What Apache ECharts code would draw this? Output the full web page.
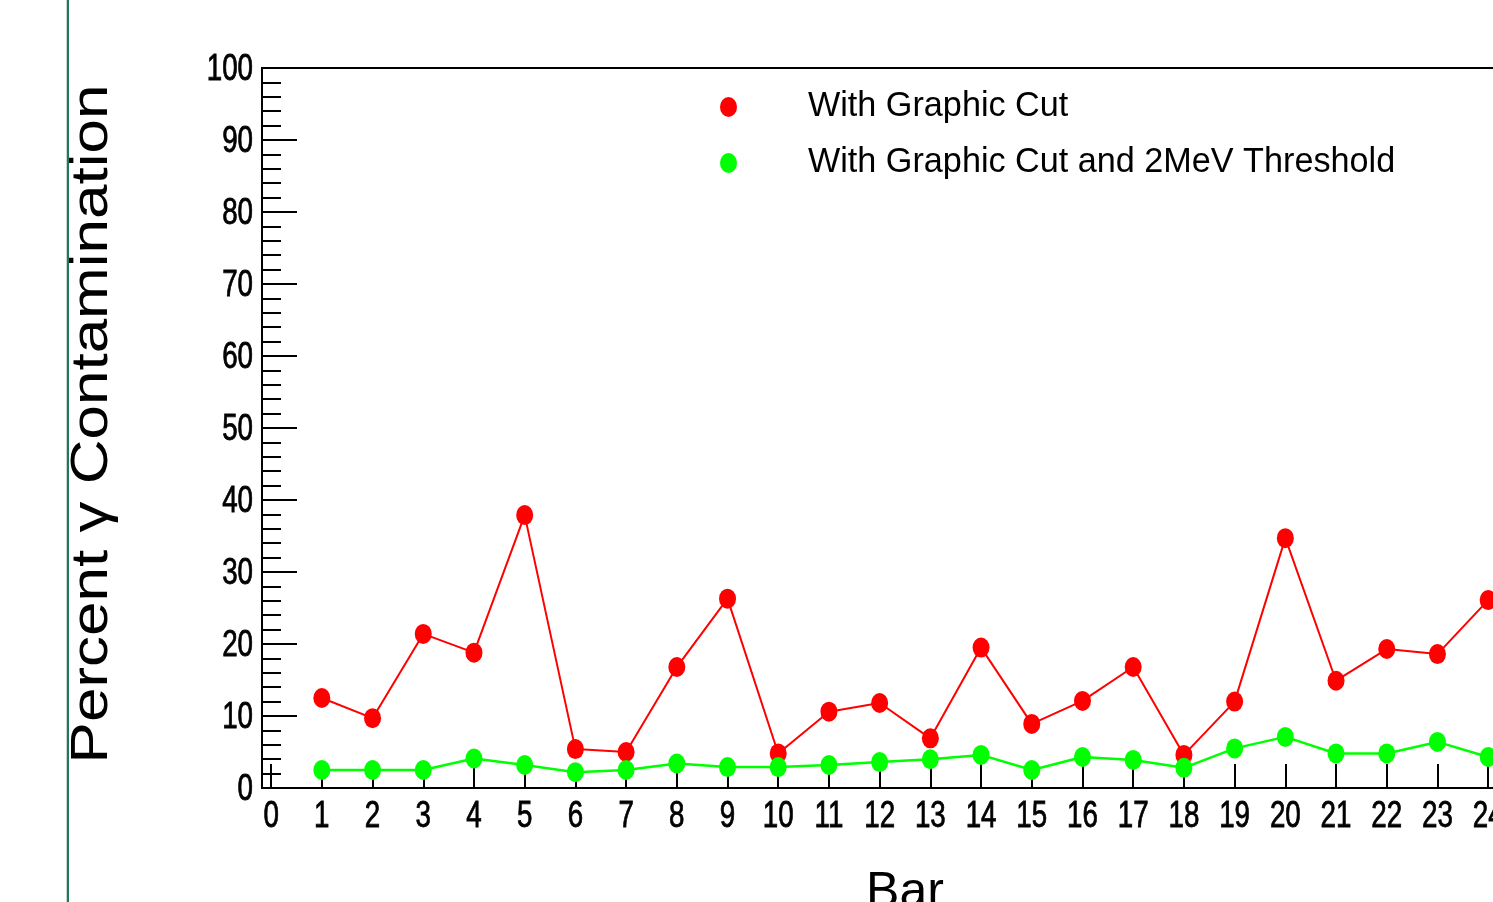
<!DOCTYPE html>
<html>
<head>
<meta charset="utf-8">
<script src="https://cdn.jsdelivr.net/npm/echarts@6/dist/echarts.min.js"></script>
<style>
  html, body { margin: 0; padding: 0; background: #fff; overflow: hidden; }
  #chart { width: 1493px; height: 902px; }
</style>
</head>
<body>
<div id="chart"></div>
<script>
// Bar numbers (x) and percent gamma contamination for each selection
const bars = [1, 2, 3, 4, 5, 6, 7, 8, 9, 10, 11, 12, 13, 14, 15, 16, 17, 18, 19, 20, 21, 22, 23, 24];
const graphicCut = [12.5, 9.7, 21.4, 18.8, 37.9, 5.4, 5.0, 16.8, 26.3, 4.8, 10.6, 11.8,
                    6.9, 19.5, 8.9, 12.1, 16.8, 4.6, 12.0, 34.7, 14.9, 19.3, 18.6, 26.1];
const graphicCutThreshold = [2.5, 2.5, 2.5, 4.1, 3.2, 2.2, 2.5, 3.4, 2.9, 2.9, 3.2, 3.6,
                             4.0, 4.6, 2.5, 4.3, 3.9, 2.8, 5.5, 7.1, 4.8, 4.8, 6.4, 4.3];
const seriesNames = ['With Graphic Cut', 'With Graphic Cut and 2MeV Threshold'];
const xTickLabels = [0, 1, 2, 3, 4, 5, 6, 7, 8, 9, 10, 11, 12, 13, 14, 15, 16, 17, 18, 19, 20, 21, 22, 23, 24, 25];
const yTickLabels = [0, 10, 20, 30, 40, 50, 60, 70, 80, 90, 100];
const yTitle = 'Percent \u03b3 Contamination';
const xTitle = 'Bar';

const mainFont = "'Liberation Sans', Arial, Helvetica, sans-serif";
// slightly tall filled marker
const markerPath = 'path://M0,10a8.5,10 0 1,0 17,0a8.5,10 0 1,0 -17,0z';

const chart = echarts.init(document.getElementById('chart'));

function pairs(vals) {
  return bars.map((b, i) => [b, vals[i]]);
}

chart.setOption({
  animation: false,
  backgroundColor: '#fff',
  grid: {
    left: 262, top: 68, width: 1286, height: 720,
    containLabel: false,
    outerBoundsMode: 'none',
    show: true, borderColor: '#000', borderWidth: 2, backgroundColor: 'transparent'
  },
  legend: {
    orient: 'vertical',
    left: 720, top: 89,
    padding: 0,
    itemWidth: 17, itemHeight: 20, itemGap: 20,
    formatter: name => '{gap| }' + name,
    textStyle: {
      fontFamily: mainFont, fontSize: 34.2, color: '#000', lineHeight: 36,
      rich: { gap: { width: 66, fontSize: 34 } }
    },
    data: [
      { name: seriesNames[0], icon: markerPath },
      { name: seriesNames[1], icon: markerPath }
    ]
  },
  xAxis: {
    type: 'value',
    min: -0.18, max: 25.18,
    name: xTitle,
    nameLocation: 'middle',
    nameGap: 80,
    nameTextStyle: { fontFamily: mainFont, fontSize: 50, color: '#000' },
    axisLine: { show: true, onZero: false, lineStyle: { color: '#000', width: 2 } },
    axisTick: { show: true, inside: true, length: 24, customValues: xTickLabels, lineStyle: { color: '#000', width: 2 } },
    axisLabel: { show: false },
    splitLine: { show: false }
  },
  yAxis: {
    type: 'value',
    min: 0, max: 100, interval: 10,
    axisLine: { show: true, onZero: false, lineStyle: { color: '#000', width: 2 } },
    axisTick: { show: true, inside: true, length: 35, lineStyle: { color: '#000', width: 2 } },
    minorTick: { show: true, splitNumber: 5, length: 19, lineStyle: { color: '#000', width: 2 } },
    axisLabel: { show: false },
    splitLine: { show: false },
    minorSplitLine: { show: false }
  },
  series: [
    {
      name: seriesNames[0],
      type: 'line',
      data: pairs(graphicCut),
      symbol: markerPath,
      symbolSize: [17, 20],
      lineStyle: { color: '#ff0000', width: 2 },
      itemStyle: { color: '#ff0000' },
      clip: false,
      z: 3
    },
    {
      name: seriesNames[1],
      type: 'line',
      data: pairs(graphicCutThreshold),
      symbol: markerPath,
      symbolSize: [17, 20],
      lineStyle: { color: '#00ff00', width: 2.5 },
      itemStyle: { color: '#00ff00' },
      clip: false,
      z: 4
    }
  ]
});

// Narrow tick labels and the stretched y title, placed from the axis scales
const narrow = 0.75;
const elements = [
  { type: 'rect', shape: { x: 66, y: 0, width: 1, height: 902 }, style: { fill: '#c9d6cf' }, silent: true },
  { type: 'rect', shape: { x: 67, y: 0, width: 2, height: 902 }, style: { fill: '#1c7a58' }, silent: true }
];
const tickTextStyle = {
  fontFamily: mainFont, fontSize: 37, fill: '#000', stroke: '#000', lineWidth: 0.8
};
xTickLabels.forEach(v => {
  const p = chart.convertToPixel({ gridIndex: 0 }, [v, 0]);
  elements.push({
    type: 'text', x: p[0], y: p[1] + 29, scaleX: narrow, silent: true,
    style: Object.assign({ text: String(v), align: 'center', textAlign: 'center',
                           verticalAlign: 'middle', textVerticalAlign: 'middle' }, tickTextStyle)
  });
});
yTickLabels.forEach(v => {
  const p = chart.convertToPixel({ gridIndex: 0 }, [-0.18, v]);
  elements.push({
    type: 'text', x: p[0] - 9, y: p[1] + 1.5, scaleX: narrow, silent: true,
    style: Object.assign({ text: String(v), align: 'right', textAlign: 'right',
                           verticalAlign: 'middle', textVerticalAlign: 'middle' }, tickTextStyle)
  });
});
const yMid = chart.convertToPixel({ yAxisIndex: 0 }, 50);
elements.push({
  type: 'text', x: 92, y: yMid - 4, rotation: Math.PI / 2, scaleY: 0.85, silent: true,
  style: { text: yTitle, fontFamily: mainFont, fontSize: 62, fill: '#000',
           align: 'center', textAlign: 'center', verticalAlign: 'middle', textVerticalAlign: 'middle' }
});
chart.setOption({ graphic: elements });
</script>
</body>
</html>
